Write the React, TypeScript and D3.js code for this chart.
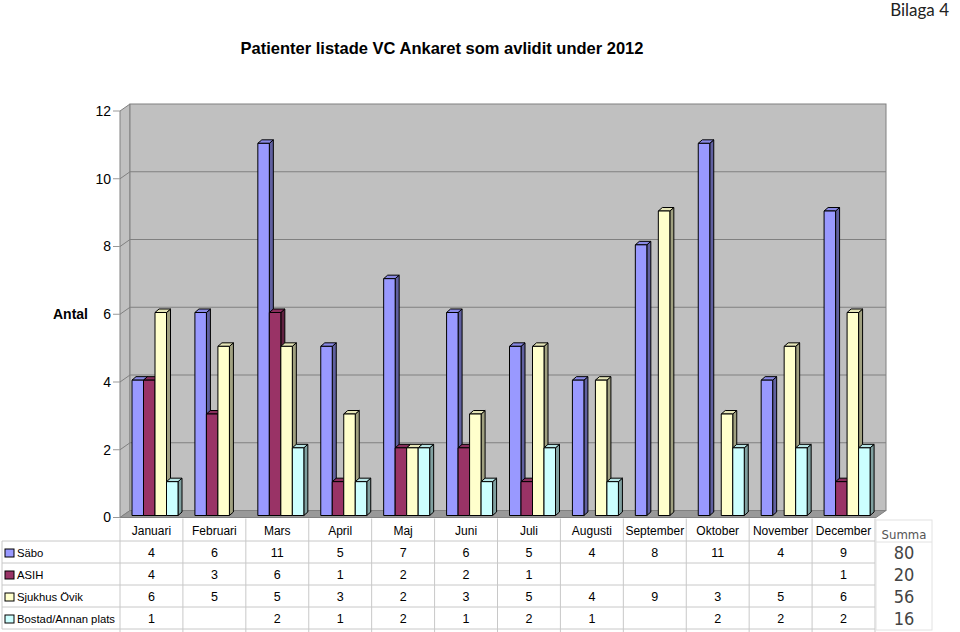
import React from "react";
import * as d3 from "d3";

const months = ["Januari","Februari","Mars","April","Maj","Juni","Juli","Augusti","September","Oktober","November","December"];
const seriesNames = ["Säbo","ASIH","Sjukhus Övik","Bostad/Annan plats"];
const seriesColors = ["#9999FF","#993366","#FFFFCC","#CCFFFF"];
const sabo: (number|null)[] = [4,6,11,5,7,6,5,4,8,11,4,9];
const asih: (number|null)[] = [4,3,6,1,2,2,1,null,null,null,null,1];
const sjukhus: (number|null)[] = [6,5,5,3,2,3,5,4,9,3,5,6];
const bostad: (number|null)[] = [1,null,2,1,2,1,2,1,null,2,2,2];
const summaLabels = ["80","20","56","16"];
const yTicks = [0,2,4,6,8,10,12];
const title = "Patienter listade VC Ankaret som avlidit under 2012";
const axisTitle = "Antal";
const pageLabel = "Bilaga 4";

const seriesValues = [sabo, asih, sjukhus, bostad];

export default function App() {
  const W = 960, H = 632;
  const plotL = 120, plotR = 875;
  const depthX = 10, depthY = 7;
  const y = d3.scaleLinear().domain([0, 12]).range([517.5, 111]);
  const yBar = d3.scaleLinear().domain([0, 12]).range([515.5, 109.5]);
  const x = d3.scaleBand<string>().domain(months).range([plotL, plotR]);
  const xs = d3.scaleBand<string>().domain(seriesNames).range([12, 58]);
  const bw = xs.bandwidth();
  const bdx = 4, bdy = 3.5;
  const font = "'Liberation Sans', Arial, sans-serif";
  const narrow = "'Liberation Sans Narrow', 'DejaVu Sans Condensed', sans-serif";
  const floorY = y(0);
  const wallTop = y(12) - depthY;

  const rowY = [553, 575, 597, 619];
  const rowLines = [541, 563, 585, 607, 629];

  return (
    <svg width={W} height={H} style={{ position: "absolute", left: 0, top: 0, background: "#fff" }} fontFamily={font}>
      <text x={949} y={16} textAnchor="end" fontSize={17} fontFamily="Lato, 'Open Sans', sans-serif" fill="#222">{pageLabel}</text>
      <text x={442} y={54} textAnchor="middle" fontSize={16.5} fontWeight="bold" fill="#000">{title}</text>

      {/* side wall */}
      <polygon points={`${plotL},${y(12)} ${plotL + depthX},${wallTop} ${plotL + depthX},${floorY - depthY} ${plotL},${floorY}`} fill="#c0c0c0" stroke="#808080" />
      {/* back wall */}
      <rect x={plotL + depthX} y={wallTop} width={plotR + 11 - plotL - depthX} height={floorY - wallTop - depthY} fill="#c0c0c0" stroke="#808080" />
      {/* floor */}
      <polygon points={`${plotL},${floorY} ${plotL + depthX},${floorY - depthY} ${plotR + 11},${floorY - depthY} ${plotR + 1},${floorY}`} fill="#999999" stroke="#808080" />
      {/* gridlines */}
      {yTicks.filter(t => t > 0 && t < 12).map(t => (
        <g key={t}>
          <line x1={plotL} y1={y(t)} x2={plotL + depthX} y2={y(t) - depthY} stroke="#808080" />
          <line x1={plotL + depthX} y1={y(t) - depthY} x2={plotR + 11} y2={y(t) - depthY} stroke="#808080" />
        </g>
      ))}
      {/* axis ticks */}
      {yTicks.map(t => (
        <g key={"t" + t}>
          <line x1={113} x2={plotL} y1={y(t)} y2={y(t)} stroke="#999" />
          <text x={111} y={y(t)} dy="0.35em" textAnchor="end" fontSize={14}>{t}</text>
        </g>
      ))}
      <text x={88} y={y(6)} dy="0.35em" textAnchor="end" fontSize={14} fontWeight="bold">{axisTitle}</text>

      {/* bars */}
      {months.map((m, mi) => (
        <g key={m}>
          {seriesNames.map((s, si) => {
            const v = seriesValues[si][mi];
            if (v == null) return null;
            const bx = (x(m) as number) + (xs(s) as number);
            const top = yBar(v), base = yBar(0);
            const c = seriesColors[si];
            const side = d3.color(c)!.darker(1.3).formatHex();
            const topC = d3.color(c)!.darker(0.3).formatHex();
            return (
              <g key={s} stroke="#000" strokeWidth={1} strokeLinejoin="round">
                <polygon points={`${bx + bw},${top} ${bx + bw + bdx},${top - bdy} ${bx + bw + bdx},${base - bdy} ${bx + bw},${base}`} fill={side} />
                <polygon points={`${bx},${top} ${bx + bdx},${top - bdy} ${bx + bw + bdx},${top - bdy} ${bx + bw},${top}`} fill={topC} />
                <rect x={bx} y={top} width={bw} height={base - top} fill={c} />
              </g>
            );
          })}
        </g>
      ))}

      {/* data table */}
      <g stroke="#c8c8c8" strokeWidth={1}>
        {rowLines.map(ly => <line key={ly} x1={2} x2={plotR} y1={ly} y2={ly} />)}
        <line x1={2} x2={2} y1={rowLines[0]} y2={rowLines[4]} />
        {d3.range(13).map(k => {
          const lx = plotL + k * x.bandwidth();
          return <line key={k} x1={lx} x2={lx} y1={floorY + 1} y2={632} />;
        })}
      </g>
      {months.map(m => (
        <text key={m} x={(x(m) as number) + x.bandwidth() / 2} y={531} dy="0.35em" textAnchor="middle" fontSize={12}>{m}</text>
      ))}
      {seriesNames.map((s, si) => (
        <g key={s}>
          <rect x={5} y={rowY[si] - 4} width={9} height={8} fill={seriesColors[si]} stroke="#000" />
          <text x={17} y={rowY[si]} dy="0.35em" fontSize={11.3}>{s}</text>
          {months.map((m, mi) => {
            const v = seriesValues[si][mi];
            return v == null ? null : (
              <text key={m} x={(x(m) as number) + x.bandwidth() / 2} y={rowY[si]} dy="0.35em" textAnchor="middle" fontSize={12.5}>{v}</text>
            );
          })}
        </g>
      ))}

      {/* Summa column */}
      <rect x={876} y={520} width={56} height={110} fill="#fff" stroke="#e2e2e2" />
      <line x1={876} x2={932} y1={542} y2={542} stroke="#e2e2e2" />
      <text x={904} y={534} dy="0.35em" textAnchor="middle" fontSize={13} fill="#555" fontFamily={narrow}>Summa</text>
      {summaLabels.map((t, i) => (
        <text key={t + i} x={904} y={rowY[i]} dy="0.35em" textAnchor="middle" fontSize={18} fill="#444" fontFamily={narrow}>{t}</text>
      ))}
    </svg>
  );
}
